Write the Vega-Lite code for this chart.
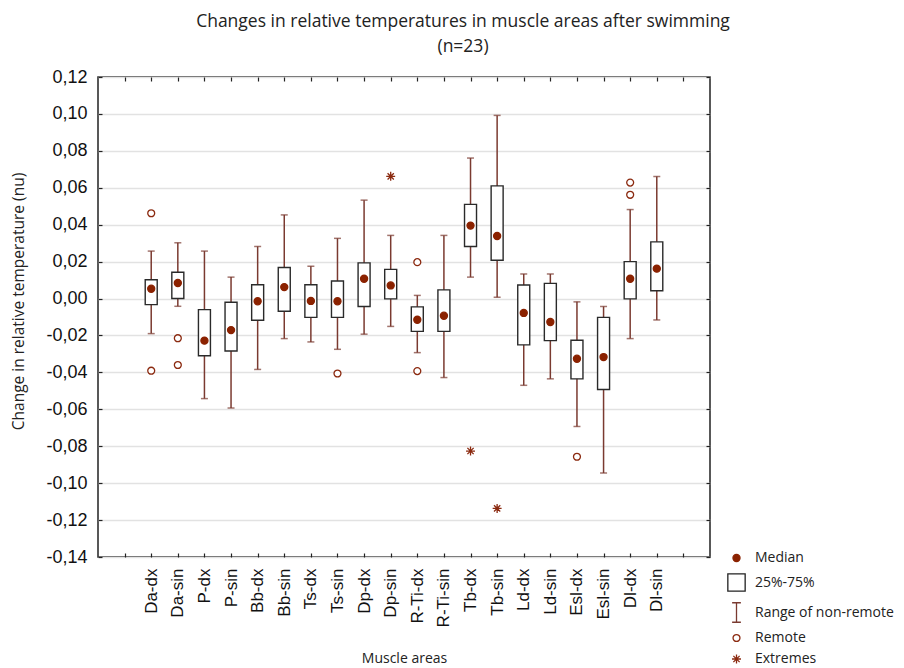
{
  "$schema": "https://vega.github.io/schema/vega-lite/v6.json",
  "width": 612,
  "height": 480,
  "autosize": {"type": "none"},
  "padding": {"left": 98, "top": 77, "right": 194, "bottom": 111},
  "background": "white",
  "config": {
    "view": {"stroke": "#222222", "strokeWidth": 1.5},
    "font": "Open Sans"
  },
  "title": {
    "text": ["Changes in relative temperatures in muscle areas after swimming", "(n=23)"],
    "font": "Open Sans",
    "fontSize": 17.5,
    "fontWeight": "normal",
    "color": "#222222",
    "lineHeight": 25,
    "offset": 13,
    "dx": 59,
    "anchor": "middle"
  },
  "datasets": {
    "boxes": [
      {"area": "Da-dx", "lo": -0.019, "q1": -0.0033, "q3": 0.0102, "hi": 0.0257},
      {"area": "Da-sin", "lo": -0.0042, "q1": 0.0, "q3": 0.0142, "hi": 0.0302},
      {"area": "P-dx", "lo": -0.0542, "q1": -0.031, "q3": -0.006, "hi": 0.0257},
      {"area": "P-sin", "lo": -0.0593, "q1": -0.0284, "q3": -0.002, "hi": 0.0116},
      {"area": "Bb-dx", "lo": -0.0384, "q1": -0.0118, "q3": 0.0075, "hi": 0.0282},
      {"area": "Bb-sin", "lo": -0.0217, "q1": -0.0069, "q3": 0.0168, "hi": 0.0453},
      {"area": "Ts-dx", "lo": -0.0235, "q1": -0.0102, "q3": 0.0075, "hi": 0.0175},
      {"area": "Ts-sin", "lo": -0.0275, "q1": -0.0102, "q3": 0.0095, "hi": 0.0326},
      {"area": "Dp-dx", "lo": -0.0193, "q1": -0.0043, "q3": 0.0193, "hi": 0.0533},
      {"area": "Dp-sin", "lo": -0.0151, "q1": -0.0002, "q3": 0.0158, "hi": 0.0342},
      {"area": "R-Ti-dx", "lo": -0.0293, "q1": -0.0178, "q3": -0.0045, "hi": 0.0017},
      {"area": "R-Ti-sin", "lo": -0.0428, "q1": -0.0178, "q3": 0.0047, "hi": 0.0342},
      {"area": "Tb-dx", "lo": 0.0116, "q1": 0.0282, "q3": 0.051, "hi": 0.0761},
      {"area": "Tb-sin", "lo": 0.0007, "q1": 0.0207, "q3": 0.061, "hi": 0.0992},
      {"area": "Ld-dx", "lo": -0.047, "q1": -0.0251, "q3": 0.0073, "hi": 0.0133},
      {"area": "Ld-sin", "lo": -0.0435, "q1": -0.0228, "q3": 0.0082, "hi": 0.0133},
      {"area": "Esl-dx", "lo": -0.0693, "q1": -0.0435, "q3": -0.0226, "hi": -0.0018},
      {"area": "Esl-sin", "lo": -0.0945, "q1": -0.0493, "q3": -0.0102, "hi": -0.0043},
      {"area": "Dl-dx", "lo": -0.0217, "q1": -0.0002, "q3": 0.02, "hi": 0.0482},
      {"area": "Dl-sin", "lo": -0.0116, "q1": 0.0042, "q3": 0.0307, "hi": 0.0661}
    ],
    "points": [
      {"area": "Da-dx", "value": 0.0053, "kind": "Median"},
      {"area": "Da-sin", "value": 0.0084, "kind": "Median"},
      {"area": "P-dx", "value": -0.0228, "kind": "Median"},
      {"area": "P-sin", "value": -0.0171, "kind": "Median"},
      {"area": "Bb-dx", "value": -0.0015, "kind": "Median"},
      {"area": "Bb-sin", "value": 0.0062, "kind": "Median"},
      {"area": "Ts-dx", "value": -0.0013, "kind": "Median"},
      {"area": "Ts-sin", "value": -0.0015, "kind": "Median"},
      {"area": "Dp-dx", "value": 0.0107, "kind": "Median"},
      {"area": "Dp-sin", "value": 0.0071, "kind": "Median"},
      {"area": "R-Ti-dx", "value": -0.0115, "kind": "Median"},
      {"area": "R-Ti-sin", "value": -0.0093, "kind": "Median"},
      {"area": "Tb-dx", "value": 0.0395, "kind": "Median"},
      {"area": "Tb-sin", "value": 0.0339, "kind": "Median"},
      {"area": "Ld-dx", "value": -0.0078, "kind": "Median"},
      {"area": "Ld-sin", "value": -0.0127, "kind": "Median"},
      {"area": "Esl-dx", "value": -0.0326, "kind": "Median"},
      {"area": "Esl-sin", "value": -0.0317, "kind": "Median"},
      {"area": "Dl-dx", "value": 0.0107, "kind": "Median"},
      {"area": "Dl-sin", "value": 0.0162, "kind": "Median"},
      {"area": "Da-dx", "value": 0.0462, "kind": "Remote"},
      {"area": "Da-dx", "value": -0.0391, "kind": "Remote"},
      {"area": "Da-sin", "value": -0.0215, "kind": "Remote"},
      {"area": "Da-sin", "value": -0.036, "kind": "Remote"},
      {"area": "Ts-sin", "value": -0.0406, "kind": "Remote"},
      {"area": "R-Ti-dx", "value": 0.0197, "kind": "Remote"},
      {"area": "R-Ti-dx", "value": -0.0393, "kind": "Remote"},
      {"area": "Esl-dx", "value": -0.0857, "kind": "Remote"},
      {"area": "Dl-dx", "value": 0.0628, "kind": "Remote"},
      {"area": "Dl-dx", "value": 0.0562, "kind": "Remote"},
      {"area": "Dp-sin", "value": 0.0662, "kind": "Extremes"},
      {"area": "Tb-dx", "value": -0.0826, "kind": "Extremes"},
      {"area": "Tb-sin", "value": -0.1137, "kind": "Extremes"}
    ]
  },
  "resolve": {"axis": {"x": "independent", "y": "independent"}},
  "layer": [
    {
      "data": {"name": "boxes"},
      "mark": {"type": "rule", "color": "#7a3a30", "strokeWidth": 1.5},
      "encoding": {
        "x": {
          "field": "area", "type": "nominal", "sort": null,
          "scale": {"type": "point", "padding": 1, "domain": [" ", "Da-dx", "Da-sin", "P-dx", "P-sin", "Bb-dx", "Bb-sin", "Ts-dx", "Ts-sin", "Dp-dx", "Dp-sin", "R-Ti-dx", "R-Ti-sin", "Tb-dx", "Tb-sin", "Ld-dx", "Ld-sin", "Esl-dx", "Esl-sin", "Dl-dx", "Dl-sin", "  "]},
          "axis": {
            "orient": "bottom", "title": "Muscle areas", "titleFont": "Open Sans", "titleFontSize": 14, "titleFontWeight": "normal", "titleColor": "#222222",
            "titleY": 101, "titleBaseline": "middle",
            "labelAngle": -90, "labelFont": "Liberation Sans", "labelFontSize": 17, "labelColor": "#111111",
            "labelPadding": 15, "tickSize": -4, "tickColor": "#222222", "tickWidth": 1.2,
            "domain": false, "grid": false
          }
        },
        "y": {
          "field": "lo", "type": "quantitative",
          "scale": {"domain": [-0.14, 0.12], "nice": false, "zero": false},
          "axis": {
            "orient": "left", "title": "Change in relative temperature (nu)", "titleFont": "Open Sans", "titleFontSize": 15.5, "titleFontWeight": "normal", "titleColor": "#222222",
            "titleX": -80, "titleY": 224, "titleBaseline": "middle",
            "values": [-0.14, -0.12, -0.1, -0.08, -0.06, -0.04, -0.02, 0, 0.02, 0.04, 0.06, 0.08, 0.1, 0.12],
            "labelExpr": "replace(replace(format(datum.value, '.2f'), '.', ','), '\u2212', '-')",
            "labelFont": "Liberation Sans", "labelFontSize": 18, "labelColor": "#111111",
            "labelPadding": 15, "tickSize": -4, "tickColor": "#222222", "tickWidth": 1.2,
            "domain": false, "grid": true, "gridColor": "#e2e2e2", "gridWidth": 1.5
          }
        },
        "y2": {"field": "hi"}
      }
    },
    {
      "data": {"name": "boxes"},
      "mark": {"type": "tick", "color": "#7a3a30", "thickness": 1.5, "size": 7},
      "encoding": {
        "x": {
          "field": "area", "type": "nominal", "sort": null,
          "axis": {"orient": "top", "title": null, "labels": false, "tickSize": -4, "tickColor": "#222222", "tickWidth": 1.2, "domain": false, "grid": false}
        },
        "y": {
          "field": "lo", "type": "quantitative",
          "axis": {"orient": "right", "title": null, "labels": false, "values": [-0.14, -0.12, -0.1, -0.08, -0.06, -0.04, -0.02, 0, 0.02, 0.04, 0.06, 0.08, 0.1, 0.12], "tickSize": -4, "tickColor": "#222222", "tickWidth": 1.2, "domain": false, "grid": false}
        }
      }
    },
    {
      "data": {"name": "boxes"},
      "mark": {"type": "tick", "color": "#7a3a30", "thickness": 1.5, "size": 7},
      "encoding": {
        "x": {"field": "area", "type": "nominal", "sort": null, "axis": null},
        "y": {"field": "hi", "type": "quantitative", "axis": null}
      }
    },
    {
      "data": {"name": "boxes"},
      "mark": {"type": "bar", "fill": "white", "stroke": "#2a2a2a", "strokeWidth": 1.4, "size": 12},
      "encoding": {
        "x": {"field": "area", "type": "nominal", "sort": null, "axis": null},
        "y": {"field": "q1", "type": "quantitative", "axis": null},
        "y2": {"field": "q3"}
      }
    },
    {
      "data": {"name": "points"},
      "mark": {"type": "point", "strokeWidth": 1.3, "opacity": 1, "filled": false},
      "encoding": {
        "x": {"field": "area", "type": "nominal", "sort": null, "axis": null},
        "y": {"field": "value", "type": "quantitative", "axis": null},
        "shape": {
          "field": "kind", "type": "nominal",
          "scale": {"domain": ["Median", "25%-75%", "Range of non-remote", "Remote", "Extremes"],
                    "range": ["circle", "square", "M-0.45,-1H0.45M0,-1V1M-0.45,1H0.45", "circle", "M-1,0H1M0,-1V1M-0.7,-0.7L0.7,0.7M-0.7,0.7L0.7,-0.7"]},
          "legend": {"orient": "none", "legendX": 628, "legendY": 474, "title": null, "labelFont": "Open Sans", "labelFontSize": 14, "labelColor": "#222222", "rowPadding": 6, "labelOffset": 8, "symbolStrokeWidth": 1.3}
        },
        "fill": {
          "field": "kind", "type": "nominal",
          "scale": {"domain": ["Median", "25%-75%", "Range of non-remote", "Remote", "Extremes"],
                    "range": ["#8b2200", "white", "transparent", "white", "transparent"]},
          "legend": {"orient": "none", "legendX": 628, "legendY": 474, "title": null, "labelFont": "Open Sans", "labelFontSize": 14, "labelColor": "#222222", "rowPadding": 6, "labelOffset": 8, "symbolStrokeWidth": 1.3}
        },
        "stroke": {
          "field": "kind", "type": "nominal",
          "scale": {"domain": ["Median", "25%-75%", "Range of non-remote", "Remote", "Extremes"],
                    "range": ["#8b2200", "#222222", "#7a3a30", "#8b2a10", "#8b2a10"]},
          "legend": {"orient": "none", "legendX": 628, "legendY": 474, "title": null, "labelFont": "Open Sans", "labelFontSize": 14, "labelColor": "#222222", "rowPadding": 6, "labelOffset": 8, "symbolStrokeWidth": 1.3}
        },
        "size": {
          "field": "kind", "type": "nominal",
          "scale": {"type": "ordinal", "domain": ["Median", "25%-75%", "Range of non-remote", "Remote", "Extremes"],
                    "range": [50, 300, 380, 48, 80]},
          "legend": {"orient": "none", "legendX": 628, "legendY": 474, "title": null, "labelFont": "Open Sans", "labelFontSize": 14, "labelColor": "#222222", "rowPadding": 6, "labelOffset": 8, "symbolStrokeWidth": 1.3}
        }
      }
    }
  ]
}
